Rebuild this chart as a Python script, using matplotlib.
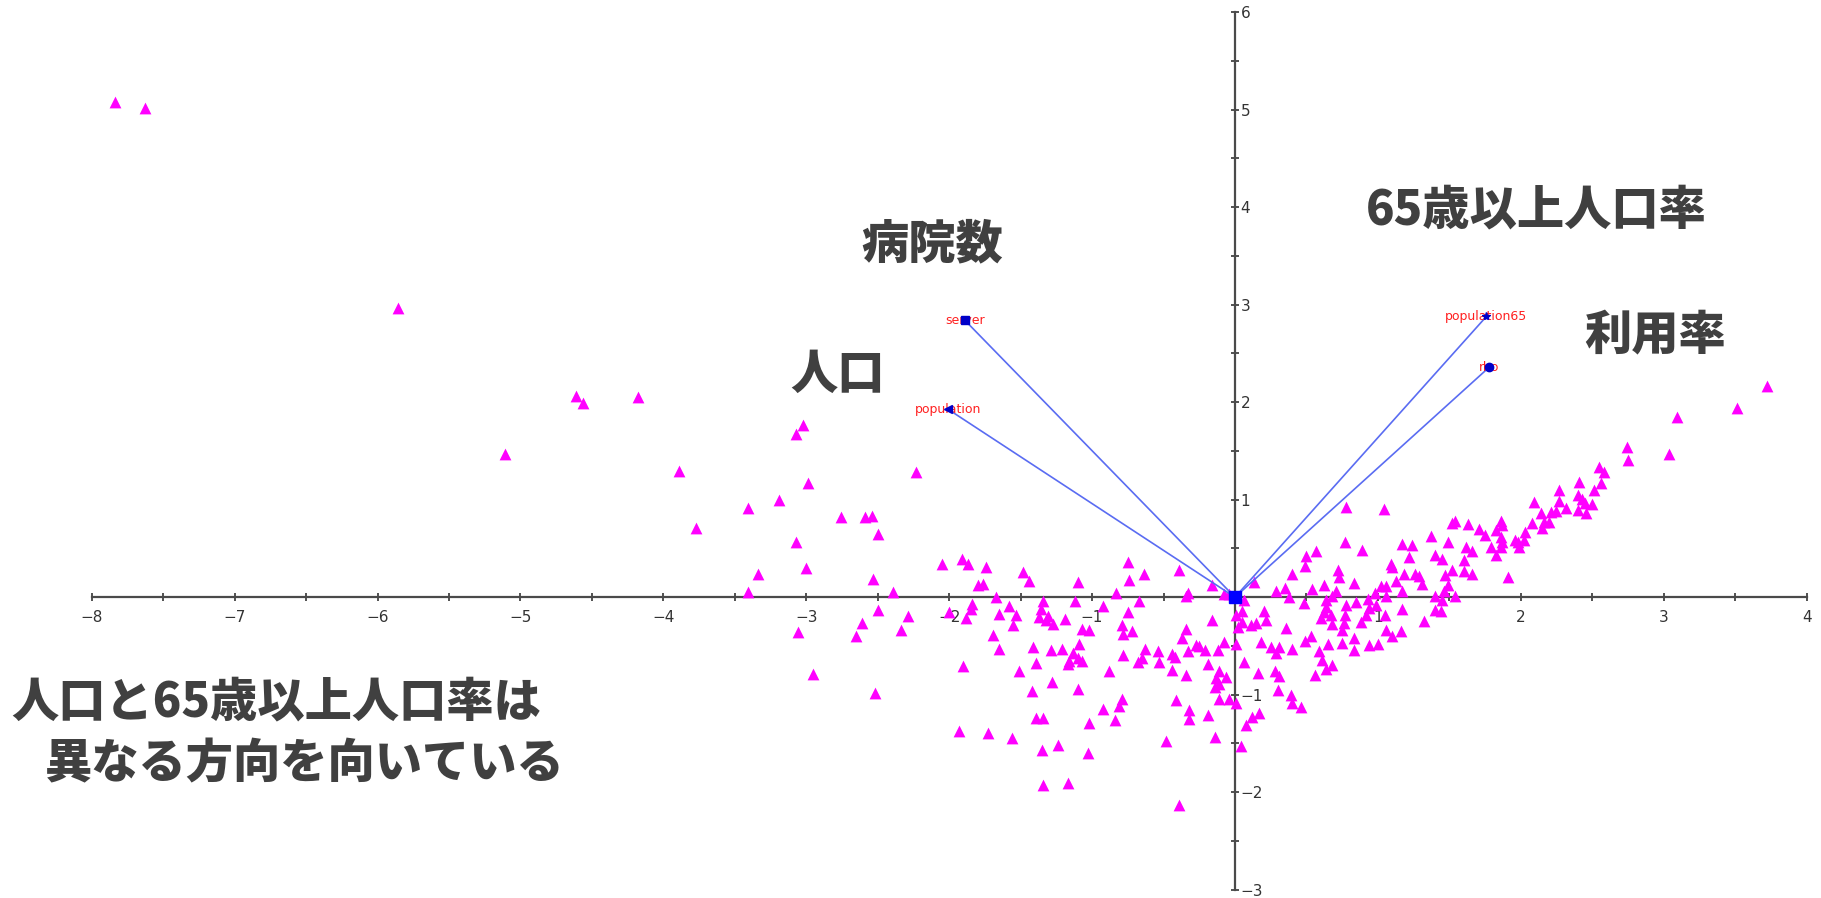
import matplotlib
matplotlib.use("Agg")
import matplotlib.pyplot as plt
from matplotlib import font_manager
from matplotlib.ticker import FixedLocator, FixedFormatter

# principal component scores (PC1, PC2) of each area
pc1 = [
    -7.84, -7.63, -5.86, -4.61, -4.56, -4.18, -5.11, -3.89, -3.77, -3.41,
    -3.02, -3.07, -3.19, -2.99, -2.76, -2.59, -2.54, -2.23,
    -2.50, -3.07, -3.34, -3.00, -3.41, -2.53, -2.39, -2.05, -1.91, -1.87,
    -1.74, -1.80, -1.76, -1.48, -1.44, -1.10, -1.67, -2.50, -2.29, -2.00,
    -1.84, -1.85, -1.88, -1.58, -1.65, -1.53, -1.55, -1.34, -1.36, -1.37,
    -1.31, -1.32, -1.27, -1.19, -1.12, -0.92, -1.07, -1.02, -3.06, -2.61,
    -2.65, -2.34, -1.69, -1.65, -1.41, -1.29, -1.21, -1.09, -1.13, -1.10,
    -1.07, -1.16, -1.17, -1.39, -1.51, -1.90, -2.95, -2.52, -0.88, -1.28,
    -1.42, -1.10, -0.92, -1.02, -1.39, -1.34, -1.93, -1.73, -1.56, -1.35,
    -1.24, -1.03, -1.34, -1.17,
    0.78, 1.04, 1.52, 1.54, 1.37, 1.17, 1.24, 0.77, 1.49, 0.89,
    0.57, 0.50, 0.49, 1.40, 1.45, 1.22, 1.09, 1.10, -0.75, -0.74,
    -0.64, -0.39, -0.83, -0.67, -0.33, -0.34, -0.16, -0.08, -0.04, 0.06,
    0.13, 0.40, 0.72, 0.73, 0.62, 0.83, 0.54, 0.29, 0.35, 0.38,
    0.71, 0.68, 0.64, 1.02, 1.06, 0.98, 0.93, 1.06, 1.13, 1.18,
    1.26, 1.29, 1.31, 1.17, 1.40, 1.47, 1.49, 1.52, 1.46, 1.45,
    1.40, 1.44, 1.32, 1.17, 1.16, 1.10, 1.06, 1.05, 0.99, 0.94,
    0.92, 0.88, 0.85, 0.78, 0.77, 0.76, 0.75, 0.68, 0.67, 0.62,
    0.60, 0.64, 0.48, 0.83, 0.75, 0.53, 0.49, 0.65, 0.59, 0.61,
    0.68, 0.64, 0.56, 0.83, 0.94, 1.00, 0.40, 0.31, 0.25, 0.29,
    0.18, 0.36, 0.22, 0.20, 0.15, 0.11, 0.05, 0.05, 0.01, 0.02,
    0.01, 0.06, 0.16, 0.28, 0.31, 0.30, 0.39, 0.40, 0.46, 0.17,
    0.12, 0.08, 0.01, -0.04, 0.04, -0.11, -0.14, -0.19, -0.32, -0.32,
    -0.41, -0.48, -0.39, -0.79, -0.81, -0.84, -0.11, -0.13, -0.06, -0.11,
    -0.14, -0.19, -0.34, -0.44, -0.53, -0.42, -0.44, -0.33, -0.27, -0.25,
    -0.21, -0.12, -0.08, -0.37, -0.34, -0.54, -0.63, -0.65, -0.68, -0.78,
    -0.78, -0.72, -0.79, -0.75, -0.16,
    3.72, 3.51, 3.09, 3.04, 2.74, 2.75, 2.55, 2.58, 2.56, 2.41,
    2.51, 2.40, 2.43, 2.45, 2.50, 2.40, 2.46, 2.27, 2.27, 2.32,
    2.25, 2.21, 2.09, 2.14, 2.16, 2.20, 2.15, 2.08, 2.03, 2.02,
    1.96, 1.98, 1.99, 1.86, 1.87, 1.83, 1.86, 1.87, 1.86, 1.83,
    1.79, 1.75, 1.71, 1.63, 1.62, 1.66, 1.60, 1.60, 1.66, 1.91,
    1.54,
]
pc2 = [
    5.08, 5.02, 2.97, 2.06, 1.99, 2.05, 1.47, 1.29, 0.71, 0.92,
    1.77, 1.67, 1.00, 1.17, 0.82, 0.82, 0.83, 1.28,
    0.65, 0.57, 0.24, 0.30, 0.05, 0.19, 0.05, 0.34, 0.39, 0.34,
    0.31, 0.13, 0.14, 0.26, 0.17, 0.16, 0.00, -0.13, -0.19, -0.15,
    -0.07, -0.12, -0.21, -0.09, -0.17, -0.18, -0.28, -0.04, -0.12, -0.20,
    -0.19, -0.23, -0.27, -0.22, -0.04, -0.09, -0.33, -0.34, -0.36, -0.26,
    -0.40, -0.34, -0.39, -0.53, -0.51, -0.54, -0.53, -0.48, -0.57, -0.62,
    -0.65, -0.65, -0.69, -0.67, -0.76, -0.71, -0.79, -0.98, -0.76, -0.87,
    -0.96, -0.94, -1.15, -1.29, -1.24, -1.24, -1.37, -1.39, -1.44, -1.57,
    -1.52, -1.60, -1.93, -1.91,
    0.93, 0.90, 0.76, 0.78, 0.63, 0.55, 0.54, 0.57, 0.57, 0.48,
    0.47, 0.42, 0.32, 0.43, 0.39, 0.41, 0.34, 0.31, 0.36, 0.18,
    0.24, 0.28, 0.04, -0.04, 0.04, 0.01, 0.13, 0.03, 0.03, -0.03,
    0.16, 0.24, 0.28, 0.21, 0.13, 0.15, 0.08, 0.06, 0.09, 0.00,
    0.06, 0.01, -0.03, 0.11, 0.12, 0.04, -0.02, 0.01, 0.17, 0.24,
    0.24, 0.22, 0.14, 0.06, 0.01, 0.23, 0.13, 0.28, 0.06, -0.03,
    -0.13, -0.14, -0.24, -0.12, -0.35, -0.40, -0.34, -0.18, -0.08, -0.11,
    -0.18, -0.25, -0.05, -0.08, -0.18, -0.26, -0.34, -0.27, -0.18, -0.15,
    -0.21, -0.10, -0.06, -0.42, -0.47, -0.40, -0.45, -0.48, -0.55, -0.64,
    -0.70, -0.74, -0.80, -0.54, -0.49, -0.48, -0.53, -0.51, -0.51, -0.57,
    -0.46, -0.32, -0.23, -0.14, -0.26, -0.28, -0.25, -0.14, -0.18, -0.31,
    -0.48, -0.66, -0.78, -0.76, -0.81, -0.95, -1.00, -1.08, -1.13, -1.19,
    -1.23, -1.31, -1.08, -1.04, -1.53, -1.04, -1.43, -1.21, -1.25, -1.16,
    -1.05, -1.47, -2.13, -1.04, -1.12, -1.26, -0.76, -0.83, -0.82, -0.89,
    -0.92, -0.68, -0.80, -0.75, -0.66, -0.61, -0.58, -0.55, -0.49, -0.50,
    -0.54, -0.54, -0.46, -0.42, -0.33, -0.55, -0.53, -0.62, -0.66, -0.59,
    -0.38, -0.35, -0.28, -0.15, -0.23,
    2.17, 1.94, 1.85, 1.47, 1.54, 1.41, 1.34, 1.28, 1.17, 1.18,
    1.10, 1.05, 1.01, 0.97, 0.96, 0.89, 0.86, 1.10, 0.99, 0.91,
    0.88, 0.87, 0.98, 0.86, 0.77, 0.77, 0.71, 0.76, 0.67, 0.59,
    0.59, 0.57, 0.52, 0.78, 0.74, 0.69, 0.62, 0.57, 0.52, 0.43,
    0.52, 0.64, 0.70, 0.75, 0.52, 0.47, 0.38, 0.27, 0.24, 0.21,
    0.01,
]

# loadings of the variables
var_names = ["server", "population", "population65", "rho"]
load1 = [-1.89, -2.01, 1.76, 1.78]
load2 = [2.84, 1.93, 2.88, 2.36]
var_marks = ["s", "<", "*", "o"]

xticks = [-8, -7, -6, -5, -4, -3, -2, -1, 1, 2, 3, 4]
yticks = [-3, -2, -1, 1, 2, 3, 4, 5, 6]
xminor = [t + 0.5 for t in range(-8, 4)]
yminor = [t + 0.5 for t in range(-3, 6)]


def tick_text(vals):
    return ["\u2212%d" % -t if t < 0 else "%d" % t for t in vals]


jp_font = ["Noto Sans CJK JP", "DejaVu Sans"]
installed = {f.name for f in font_manager.fontManager.ttflist}
tick_font = "Liberation Sans Narrow" if "Liberation Sans Narrow" in installed else "DejaVu Sans"

fig = plt.figure(figsize=(18.21, 8.98), dpi=100)
ax = fig.add_axes([0, 0, 1, 1])
ax.set_xlim(-8.642, 4.101)
ax.set_ylim(-3.085, 6.125)

# axes crossing at the origin
for side in ["left", "bottom", "right"]:
    ax.spines[side].set_position(("data", 0))
ax.spines["top"].set_visible(False)
ax.spines["right"].set_visible(False)
ax.spines["bottom"].set_bounds(-8, 4)
ax.spines["left"].set_bounds(-3, 6)
for side in ["left", "bottom"]:
    ax.spines[side].set_color("#4a4a4a")
    ax.spines[side].set_linewidth(1.6)

ax.xaxis.set_major_locator(FixedLocator(xticks))
ax.xaxis.set_major_formatter(FixedFormatter(tick_text(xticks)))
ax.yaxis.set_major_locator(FixedLocator(yticks))
ax.yaxis.set_major_formatter(FixedFormatter(tick_text(yticks)))
ax.xaxis.set_minor_locator(FixedLocator(xminor))
ax.yaxis.set_minor_locator(FixedLocator(yminor))
ax.tick_params(which="both", direction="inout", length=6, width=1.2, color="#333333")
ax.tick_params(axis="x", which="both", top=False, pad=6)
ax.tick_params(axis="y", which="both", left=True, right=False,
               labelleft=False, labelright=True, pad=1)
for lab in ax.get_xticklabels() + ax.get_yticklabels():
    lab.set_fontfamily(tick_font)
    lab.set_fontsize(11)
    lab.set_color("#333333")

# scores
ax.scatter(pc1, pc2, marker="^", s=72, color="#ff00ff", linewidths=0, zorder=3)

# loading vectors
for name, lx, ly, mk in zip(var_names, load1, load2, var_marks):
    ax.plot([0, lx], [0, ly], color="#5a6cf2", lw=1.2, zorder=4)
    ax.text(lx, ly, name, color="#ff2020", fontsize=9, ha="center", va="center", zorder=5)
    ax.plot(lx, ly, marker=mk, color="#0000c8", ms=6, zorder=6)
ax.plot(0, 0, marker="s", color="#0000ff", ms=8, zorder=6)

big = dict(family=jp_font, weight="black", color="#404040", fontsize=34)
ax.text(-2.116, 3.623, "病院数", ha="center", va="center", **big)
ax.text(2.11, 3.967, "65歳以上人口率", ha="center", va="center", **big)
ax.text(-2.782, 2.285, "人口", ha="center", va="center", **big)
ax.text(2.939, 2.676, "利用率", ha="center", va="center", **big)
ax.text(-8.56, -1.082, "人口と65歳以上人口率は", ha="left", va="center", **big)
ax.text(-8.33, -1.709, "異なる方向を向いている", ha="left", va="center", **big)

fig.savefig("out.png", dpi=100)
